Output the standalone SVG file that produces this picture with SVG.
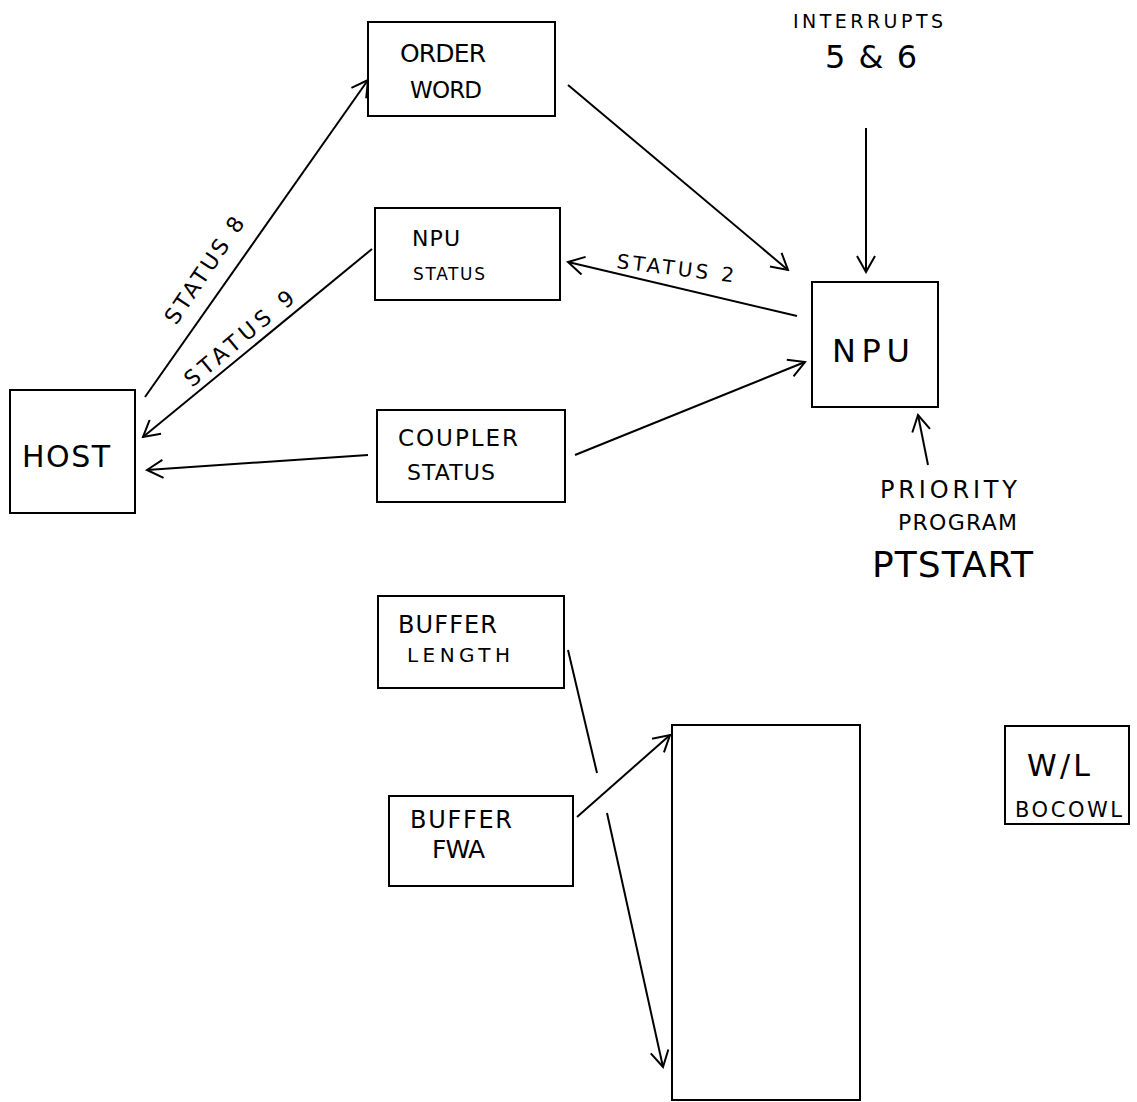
<svg xmlns="http://www.w3.org/2000/svg" width="1137" height="1102" viewBox="0 0 1137 1102">
<defs>
<marker id="arr" viewBox="0 0 20 20" refX="18" refY="10" markerWidth="20" markerHeight="20" markerUnits="userSpaceOnUse" orient="auto">
<path d="M2,1 L18,10 L2,19" fill="none" stroke="#000" stroke-width="2"/>
</marker>
</defs>
<style>
.box{fill:none;stroke:#000;stroke-width:2}
.t{font-family:"DejaVu Sans",sans-serif;fill:#000}
.c{stroke:#000;stroke-width:2;fill:none}
</style>
<rect width="1137" height="1102" fill="#fff"/>
<g id="order-word"><rect class="box" x="368" y="22" width="187" height="94"/>
<text class="t" x="400" y="62" style="font-size:25px" textLength="86" lengthAdjust="spacing">ORDER</text>
<text class="t" x="410" y="98" style="font-size:23px" textLength="72" lengthAdjust="spacing">WORD</text></g>
<g id="npu-status"><rect class="box" x="375" y="208" width="185" height="92"/>
<text class="t" x="412" y="246" style="font-size:22px" textLength="48" lengthAdjust="spacing">NPU</text>
<text class="t" x="413" y="280" style="font-size:17px" textLength="72" lengthAdjust="spacing">STATUS</text></g>
<g id="coupler-status"><rect class="box" x="377" y="410" width="188" height="92"/>
<text class="t" x="398" y="446" style="font-size:23px" textLength="120" lengthAdjust="spacing">COUPLER</text>
<text class="t" x="407" y="480" style="font-size:22px" textLength="88" lengthAdjust="spacing">STATUS</text></g>
<g id="host"><rect class="box" x="10" y="390" width="125" height="123"/>
<text class="t" x="22" y="467" style="font-size:30px" textLength="88" lengthAdjust="spacing">HOST</text></g>
<g id="npu"><rect class="box" x="812" y="282" width="126" height="125"/>
<text class="t" x="832" y="362" style="font-size:32px" textLength="78" lengthAdjust="spacing">NPU</text></g>
<g id="interrupts"><text class="t" x="793" y="28" style="font-size:19px" textLength="150" lengthAdjust="spacing">INTERRUPTS</text>
<text class="t" x="825" y="68" style="font-size:32px" textLength="92" lengthAdjust="spacing">5 &amp; 6</text></g>
<g id="priority"><text class="t" x="880" y="498" style="font-size:24px" textLength="137" lengthAdjust="spacing">PRIORITY</text>
<text class="t" x="898" y="530" style="font-size:22px" textLength="119" lengthAdjust="spacing">PROGRAM</text>
<text class="t" x="872" y="577" style="font-size:36px" textLength="161" lengthAdjust="spacing">PTSTART</text></g>
<g id="buffer-length"><rect class="box" x="378" y="596" width="186" height="92"/>
<text class="t" x="398" y="633" style="font-size:24px" textLength="99" lengthAdjust="spacing">BUFFER</text>
<text class="t" x="407" y="662" style="font-size:20px" textLength="103" lengthAdjust="spacing">LENGTH</text></g>
<g id="buffer-fwa"><rect class="box" x="389" y="796" width="184" height="90"/>
<text class="t" x="410" y="828" style="font-size:24px" textLength="102" lengthAdjust="spacing">BUFFER</text>
<text class="t" x="432" y="858" style="font-size:25px" textLength="53" lengthAdjust="spacing">FWA</text></g>
<g id="buffer"><rect class="box" x="672" y="725" width="188" height="375"/></g>
<g id="wl-bocowl"><rect class="box" x="1005" y="726" width="124" height="98"/>
<text class="t" x="1027" y="776" style="font-size:30px" textLength="63" lengthAdjust="spacing">W/L</text>
<text class="t" x="1015" y="817" style="font-size:21px" textLength="107" lengthAdjust="spacing">BOCOWL</text></g>
<g id="connectors">
<line class="c" x1="145" y1="397" x2="368" y2="80" marker-end="url(#arr)"/>
<line class="c" x1="372" y1="249" x2="143" y2="437" marker-end="url(#arr)"/>
<line class="c" x1="368" y1="455" x2="147" y2="470" marker-end="url(#arr)"/>
<line class="c" x1="568" y1="85" x2="788" y2="270" marker-end="url(#arr)"/>
<line class="c" x1="797" y1="316" x2="568" y2="262" marker-end="url(#arr)"/>
<line class="c" x1="575" y1="455" x2="805" y2="362" marker-end="url(#arr)"/>
<line class="c" x1="866" y1="128" x2="866" y2="272" marker-end="url(#arr)"/>
<line class="c" x1="928" y1="465" x2="918" y2="415" marker-end="url(#arr)"/>
<line class="c" x1="577" y1="817" x2="670" y2="735" marker-end="url(#arr)"/>
<line class="c" x1="568" y1="650" x2="597" y2="773"/>
<line class="c" x1="607" y1="813" x2="663" y2="1067" marker-end="url(#arr)"/>
<text class="t" transform="translate(176,326) rotate(-56)" style="font-size:22px" textLength="124" lengthAdjust="spacing">STATUS 8</text>
<text class="t" transform="translate(192,388) rotate(-40)" style="font-size:22px" textLength="136" lengthAdjust="spacing">STATUS 9</text>
<text class="t" transform="translate(616,268) rotate(7)" style="font-size:20px" textLength="118" lengthAdjust="spacing">STATUS 2</text>
</g>
</svg>
